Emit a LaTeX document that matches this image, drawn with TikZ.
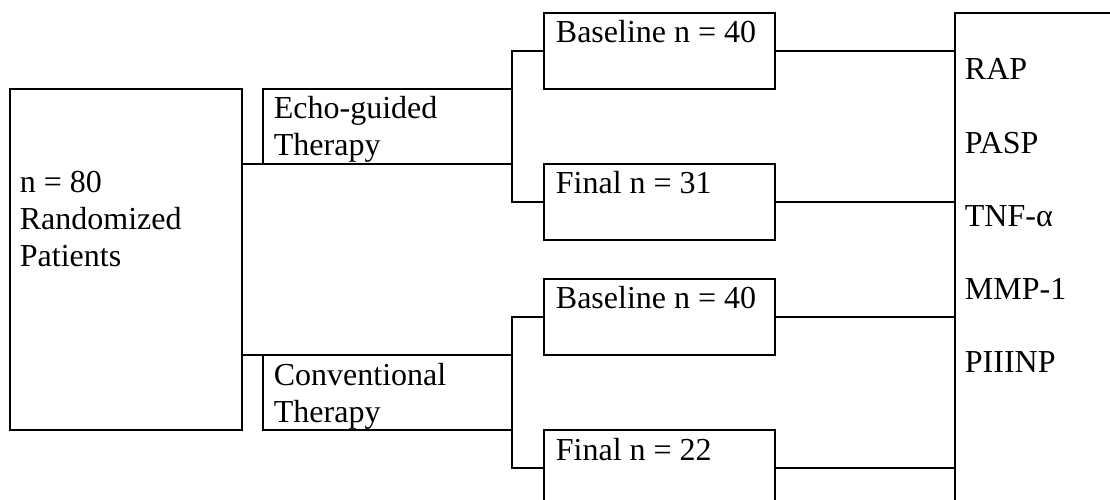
\documentclass[tikz,border=0pt]{standalone}
\usepackage{fontspec}
\setmainfont{Liberation Serif}
\usetikzlibrary{calc}
\begin{document}
\begin{tikzpicture}[x=1bp,y=-1bp,
  line width=1.8bp,
  box/.style={draw, rectangle, inner sep=0pt, outer sep=0pt, anchor=north west},
  armbox/.style={box, minimum width=249bp, minimum height=75bp},
  stagebox/.style={box, minimum width=231bp, minimum height=76bp},
  txt/.style={anchor=base west, inner sep=0pt, align=left,
    font=\fontsize{32bp}{37bp}\selectfont},
  link/.style={draw}]
\useasboundingbox (0,0) rectangle (1110,500);
\clip (0,0) rectangle (1110,500);

% boxes
\node[box, minimum width=232bp, minimum height=341bp] (rand) at (10,89) {};
\node[armbox] (echo) at (263,89) {};
\node[armbox] (conv) at (263,355) {};
\node[stagebox] (b1) at (544,13) {};
\node[stagebox] (f1) at (544,164) {};
\node[stagebox] (b2) at (544,279) {};
\node[stagebox] (f2) at (544,430) {};
\node[box, minimum width=260bp, minimum height=600bp] (out) at (955,13) {};

% texts (multi-line texts are placed by the baseline of their last line)
\node[txt] (randtxt) at ($(rand.north west)+(9,178)$) {n = 80\\Randomized\\Patients};
\node[txt] (echotxt) at ($(echo.north west)+(10,67)$) {Echo-guided\\Therapy};
\node[txt] (convtxt) at ($(conv.north west)+(10,67)$) {Conventional\\Therapy};
\node[txt] (b1txt) at ($(b1.north west)+(11,30)$) {Baseline n = 40};
\node[txt] (f1txt) at ($(f1.north west)+(11,30)$) {Final n = 31};
\node[txt] (b2txt) at ($(b2.north west)+(11,30)$) {Baseline n = 40};
\node[txt] (f2txt) at ($(f2.north west)+(11,30)$) {Final n = 22};
\node[txt, font=\fontsize{32bp}{73.3bp}\selectfont] (outtxt)
  at ($(out.north west)+(9,360)$) {RAP\\PASP\\TNF-α\\MMP-1\\PIIINP};

% connectors
\draw[link] (echo.south west -| rand.east) -- (echo.south west);
\draw[link] (conv.north west -| rand.east) -- (conv.north west);
\draw[link] (echo.east) |- (b1.west);
\draw[link] (echo.east) |- (f1.west);
\draw[link] (conv.east) |- (b2.west);
\draw[link] (conv.east) |- (f2.west);
\draw[link] (b1.east) -- (b1.east -| out.west);
\draw[link] (f1.east) -- (f1.east -| out.west);
\draw[link] (b2.east) -- (b2.east -| out.west);
\draw[link] (f2.east) -- (f2.east -| out.west);
\end{tikzpicture}
\end{document}
